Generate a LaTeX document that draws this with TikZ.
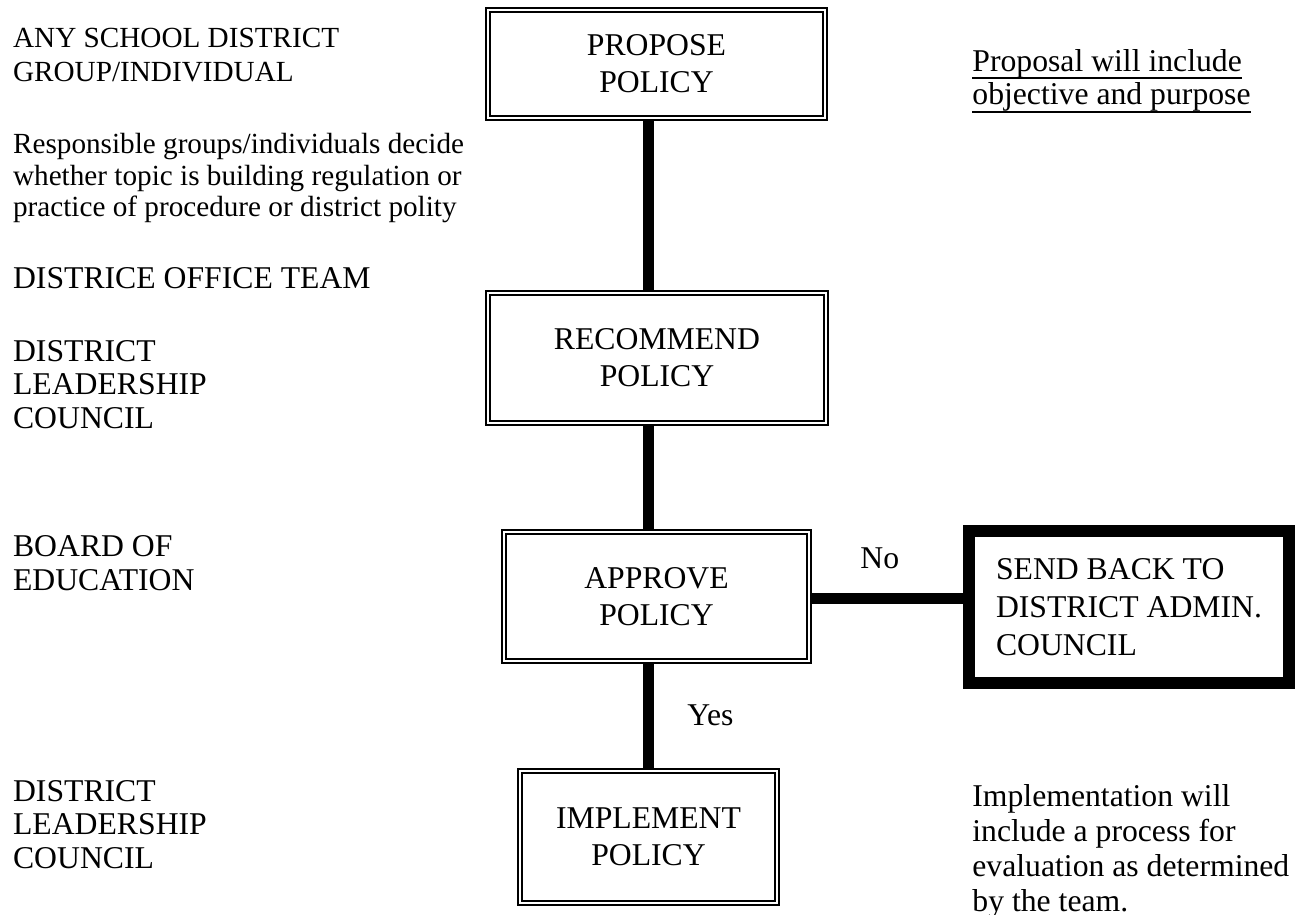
\documentclass[tikz,border=0pt]{standalone}
\usepackage{fontspec}
\setmainfont{Liberation Serif}
\usetikzlibrary{backgrounds}
\newcommand\myul[1]{\setbox0\hbox{#1}\rlap{\rule[-4pt]{\wd0}{1pt}}\box0}
\begin{document}
\begin{tikzpicture}[x=0.5pt,y=-0.5pt,
  lbl/.style={anchor=base west,inner sep=0pt,align=left},
  smallf/.style={font=\fontsize{14.6pt}{17pt}\selectfont},
  bigf/.style={font=\fontsize{15.85pt}{16.75pt}\selectfont},
  dbox/.style={draw,double,line width=1.15pt,double distance=0.85pt,fill=white,
    inner sep=0pt,align=center,font=\fontsize{15.85pt}{18.5pt}\selectfont},
  sbox/.style={draw,line width=6pt,fill=white,inner sep=0pt,align=left,
    font=\fontsize{15.85pt}{19pt}\selectfont},
  bar/.style={line width=5.5pt},
]
\useasboundingbox (0,0) rectangle (1308,915);

% boxes
\node[dbox,minimum width=168.35pt,minimum height=53.85pt] (prop) at (656.5,64) {PROPOSE\\POLICY};
\node[dbox,minimum width=168.85pt,minimum height=64.85pt] (rec) at (657,358) {RECOMMEND\\POLICY};
\node[dbox,minimum width=152.35pt,minimum height=64.35pt] (appr) at (656.5,596.5) {APPROVE\\POLICY};
\node[dbox,minimum width=128.35pt,minimum height=65.85pt] (impl) at (648.5,837) {IMPLEMENT\\POLICY};
\node[sbox,minimum width=160pt,minimum height=76pt] (send) at (1129,607) {SEND BACK TO\\DISTRICT ADMIN.\\COUNCIL};

% connectors
\coordinate (cx) at (648.5,0);
\coordinate (cy) at (0,598);
\begin{scope}[on background layer]
\fill[white] (0,0) rectangle (1308,915);
\draw[bar] (prop.south -| cx) -- (rec.north -| cx);
\draw[bar] (rec.south -| cx) -- (appr.north -| cx);
\draw[bar] (appr.south -| cx) -- (impl.north -| cx);
\draw[bar] (appr.east |- cy) -- (send.west |- cy);
\end{scope}

\node[lbl,bigf] (no) at (860,568) {No};
\node[lbl,bigf] (yes) at (687,725) {Yes};

% left column (anchor = baseline of last line)
\node[lbl,smallf] (anyschool) at (12.7,82) {ANY SCHOOL DISTRICT\\GROUP/INDIVIDUAL};
\node[lbl,font=\fontsize{14.6pt}{15.8pt}\selectfont] (resp) at (12.7,217) {Responsible groups/individuals decide\\whether topic is building regulation or\\practice of procedure or district polity};
\node[lbl,bigf] (dot) at (12.7,288) {DISTRICE OFFICE TEAM};
\node[lbl,bigf] (dlc1) at (12.7,428) {DISTRICT\\LEADERSHIP\\COUNCIL};
\node[lbl,font=\fontsize{15.85pt}{17pt}\selectfont] (boe) at (12.7,590) {BOARD OF\\EDUCATION};
\node[lbl,bigf] (dlc2) at (12.7,868) {DISTRICT\\LEADERSHIP\\COUNCIL};

% right column
\node[lbl,font=\fontsize{15.85pt}{17pt}\selectfont] (propnote) at (972,105) {\myul{Proposal will include}\\\myul{objective and purpose}};
\node[lbl,font=\fontsize{15.85pt}{17.5pt}\selectfont] (implnote) at (972,911) {Implementation will\\include a process for\\evaluation as determined\\by the team.};
\end{tikzpicture}
\end{document}
